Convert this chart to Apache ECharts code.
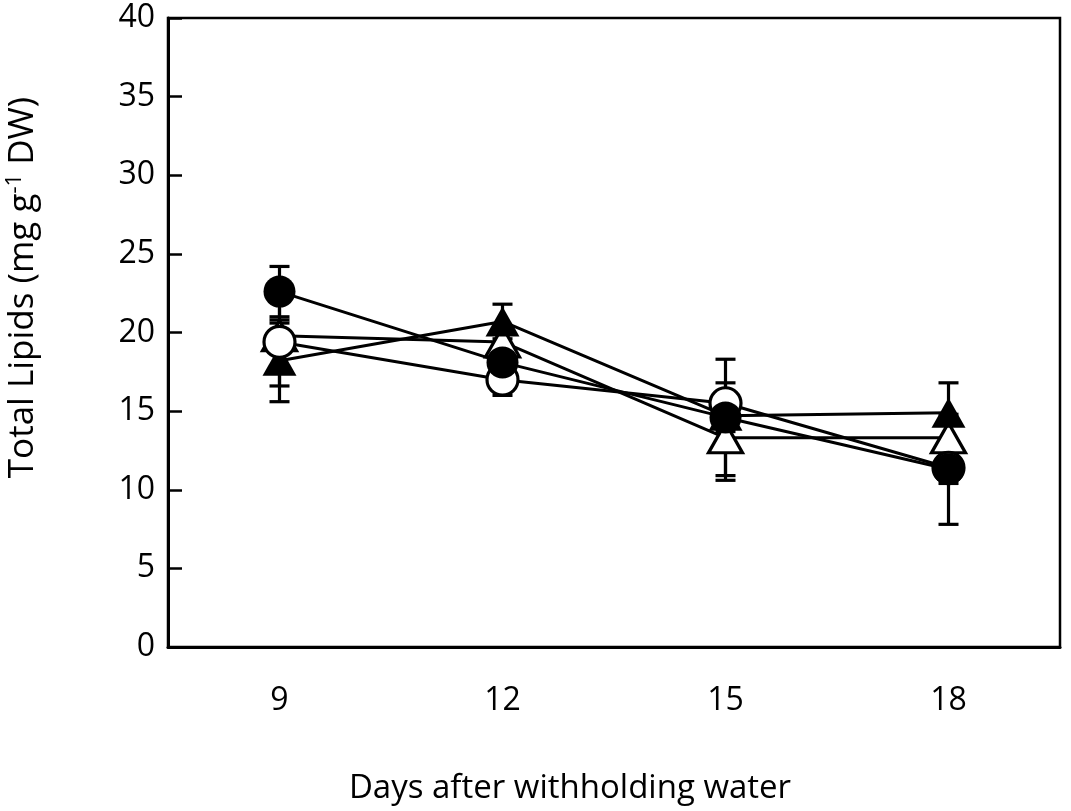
<!DOCTYPE html>
<html>
<head>
<meta charset="utf-8">
<script src="https://cdn.jsdelivr.net/npm/echarts@6/dist/echarts.min.js"></script>
<style>
  html, body { margin: 0; padding: 0; background: #fff; }
  #main { width: 1071px; height: 811px; }
</style>
</head>
<body>
<div id="main"></div>
<script>
// 数据
const days = ['9', '12', '15', '18'];
const filledCircle = [22.6, 18.1, 14.6, 11.3];
const filledCircleErr = [1.6, 0.8, 3.7, 3.5];
const openCircle = [19.4, 17.0, 15.5, 11.4];
const openCircleErr = [2.8, 1.0, 1.3, 1.0];
const filledTriangle = [18.2, 20.7, 14.7, 14.9];
const filledTriangleErr = [2.6, 1.1, 1.0, 1.9];
const openTriangle = [19.8, 19.4, 13.3, 13.3];
const openTriangleErr = [0.8, 0.8, 2.7, 1.0];
const yTicks = [0, 5, 10, 15, 20, 25, 30, 35, 40];

const FONT = 'Open Sans';

// 误差线数据 [index, low, high]
function errData(vals, errs) {
  return vals.map((v, i) => [i, v - errs[i], v + errs[i]]);
}

function errorSeries(vals, errs) {
  return {
    type: 'custom',
    z: 1,
    silent: true,
    data: errData(vals, errs),
    renderItem: function (params, api) {
      const i = api.value(0);
      const lo = api.coord([i, api.value(1)]);
      const hi = api.coord([i, api.value(2)]);
      const w = 10;
      const style = { stroke: '#000', lineWidth: 3.2 };
      return {
        type: 'group',
        children: [
          { type: 'line', shape: { x1: lo[0], y1: lo[1], x2: hi[0], y2: hi[1] }, style: style },
          { type: 'line', shape: { x1: hi[0] - w, y1: hi[1], x2: hi[0] + w, y2: hi[1] }, style: style },
          { type: 'line', shape: { x1: lo[0] - w, y1: lo[1], x2: lo[0] + w, y2: lo[1] }, style: style }
        ]
      };
    }
  };
}

function lineSeries(name, vals, symbol, size, filled, z) {
  return {
    name: name,
    type: 'line',
    data: vals,
    z: z,
    symbol: symbol,
    symbolSize: size,
    showAllSymbol: true,
    lineStyle: { color: '#000', width: 3 },
    itemStyle: {
      color: filled ? '#000' : '#fff',
      borderColor: '#000',
      borderWidth: filled ? 0 : 3.2
    },
    emphasis: { disabled: true },
    animation: false
  };
}

const chart = echarts.init(document.getElementById('main'));
chart.setOption({
  animation: false,
  grid: {
    left: 168, right: 11, top: 18, bottom: 164,
    outerBoundsMode: 'none',
    containLabel: false,
    show: true, borderColor: '#000', borderWidth: 2.5, backgroundColor: '#fff'
  },
  xAxis: {
    type: 'category',
    data: days,
    boundaryGap: true,
    name: 'Days after withholding water',
    nameLocation: 'middle',
    nameGap: 125,
    nameTextStyle: { fontFamily: FONT, fontSize: 33, color: '#000', padding: [0, 88, 0, 0] },
    axisLine: { lineStyle: { color: '#000', width: 3 } },
    axisTick: { inside: true, length: 14, lineStyle: { color: '#000', width: 2.5 } },
    axisLabel: { margin: 38, fontFamily: FONT, fontSize: 32, color: '#000' },
    splitLine: { show: false }
  },
  yAxis: {
    type: 'value',
    min: yTicks[0],
    max: yTicks[yTicks.length - 1],
    interval: 5,
    name: '{a|Total Lipids (mg g}{s|-1}{a| DW)}',
    nameLocation: 'middle',
    nameRotate: 90,
    nameGap: 126,
    nameTextStyle: {
      color: '#000',
      padding: [0, 0, 0, 90],
      rich: {
        a: { fontFamily: FONT, fontSize: 35, color: '#000' },
        s: { fontFamily: FONT, fontSize: 22, color: '#000', verticalAlign: 'top', padding: [0, 0, 16, 0] }
      }
    },
    axisLine: { show: true, lineStyle: { color: '#000', width: 3 } },
    axisTick: { show: true, inside: true, length: 14, lineStyle: { color: '#000', width: 2.5 } },
    axisLabel: { margin: 13, fontFamily: FONT, fontSize: 32, color: '#000' },
    splitLine: { show: false }
  },
  series: [
    errorSeries(openTriangle, openTriangleErr),
    errorSeries(filledTriangle, filledTriangleErr),
    errorSeries(openCircle, openCircleErr),
    errorSeries(filledCircle, filledCircleErr),
    lineSeries('open triangle', openTriangle, 'triangle', [34, 30], false, 2),
    lineSeries('filled triangle', filledTriangle, 'triangle', [34, 30], true, 3),
    lineSeries('open circle', openCircle, 'circle', 31, false, 4),
    lineSeries('filled circle', filledCircle, 'circle', 32, true, 5)
  ]
});
</script>
</body>
</html>
